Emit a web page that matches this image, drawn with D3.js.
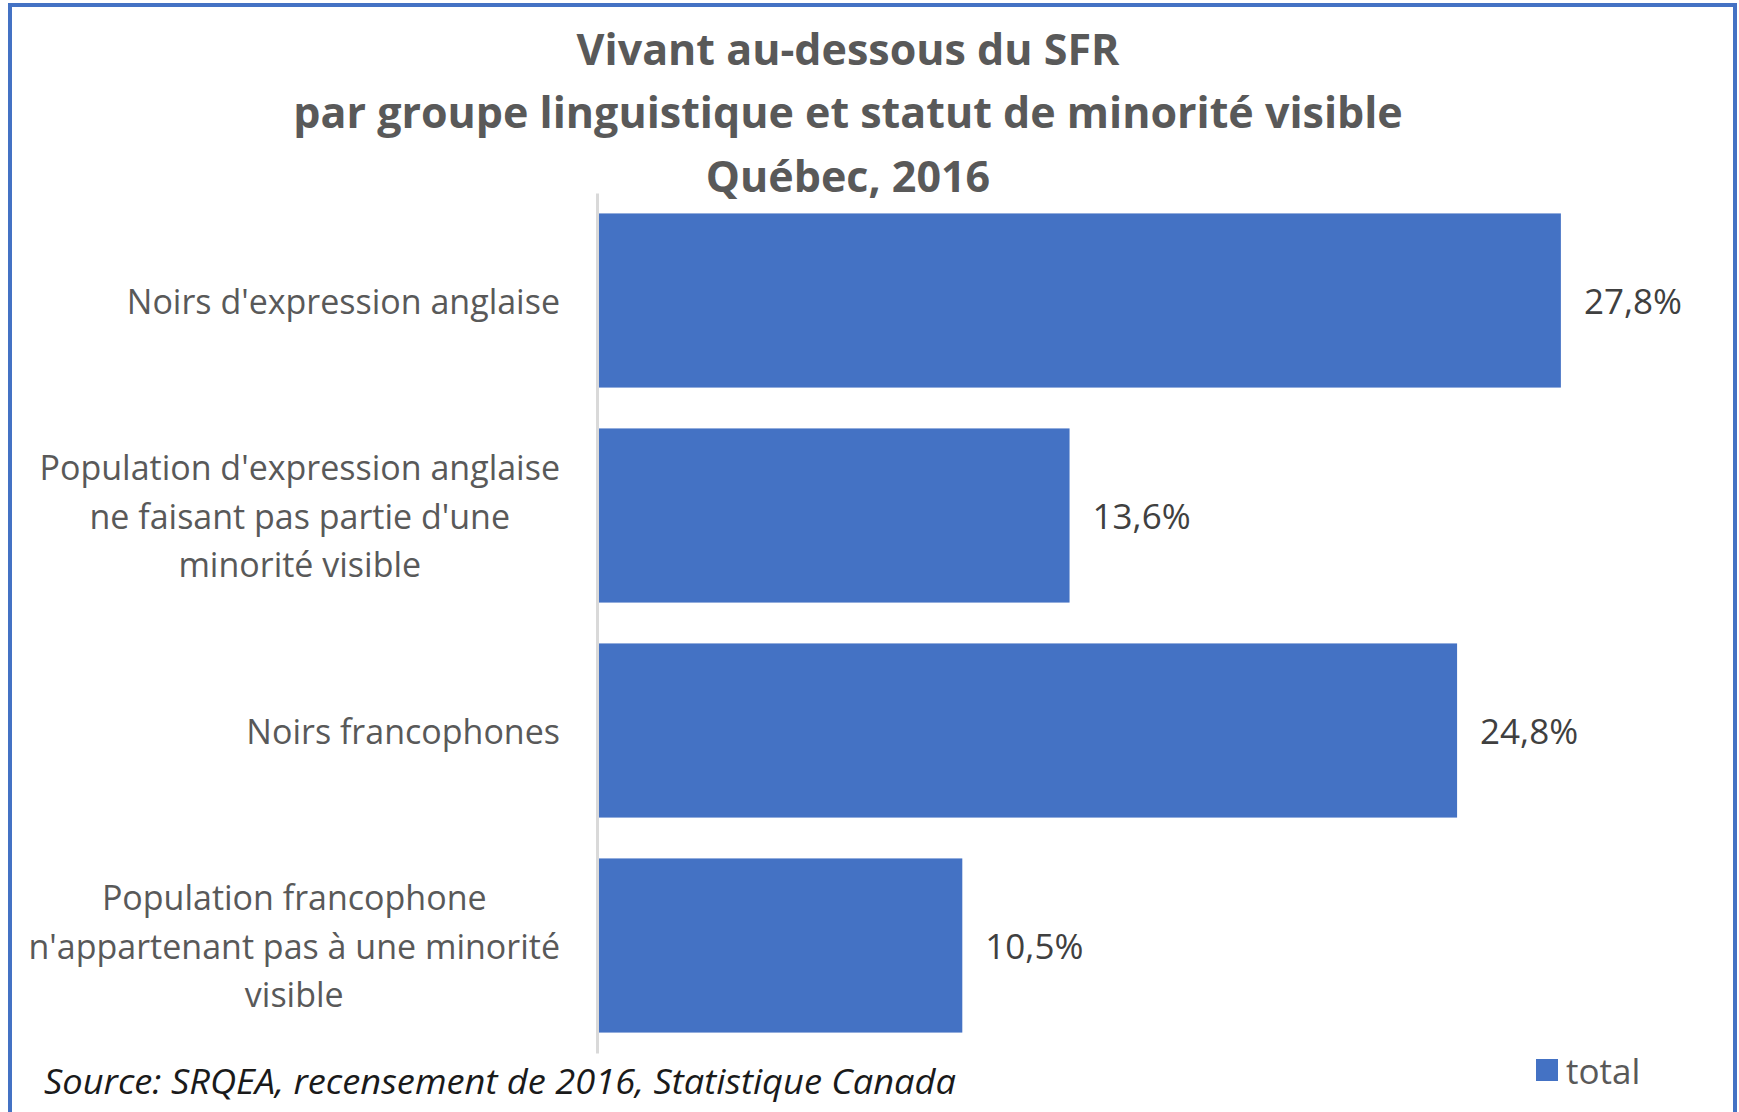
<!DOCTYPE html>
<html>
<head>
<meta charset="utf-8">
<script src="https://cdn.jsdelivr.net/npm/d3@7"></script>
<style>
  html, body { margin: 0; padding: 0; background: #fff; }
  svg { display: block; }
</style>
</head>
<body>
<svg id="chart" width="1739" height="1112"></svg>
<script>
// ---- data ----
const categories = [
  "Noirs d'expression anglaise",
  "Population d'expression anglaise ne faisant pas partie d'une minorité visible",
  "Noirs francophones",
  "Population francophone n'appartenant pas à une minorité visible"
];
const categoryLines = [
  ["Noirs d'expression anglaise"],
  ["Population d'expression anglaise", "ne faisant pas partie d'une", "minorité visible"],
  ["Noirs francophones"],
  ["Population francophone", "n'appartenant pas à une minorité", "visible"]
];
const values = [27.8, 13.6, 24.8, 10.5];
const titleLines = [
  "Vivant au-dessous du SFR",
  "par groupe linguistique et statut de minorité visible",
  "Québec, 2016"
];
const seriesName = "total";
const sourceText = "Source: SRQEA, recensement de 2016, Statistique Canada";

// ---- drawing ----
const svg = d3.select("#chart");
const W = 1739, H = 1112;
const font = "'Open Sans', 'Noto Sans', sans-serif";
const grey = "#595959";
const blue = "#4472C4";

svg.append("rect").attr("x", 0).attr("y", 0).attr("width", W).attr("height", H).attr("fill", "#fff");
// outer border
svg.append("rect")
  .attr("x", 10).attr("y", 5).attr("width", 1725).attr("height", 1130)
  .attr("fill", "none").attr("stroke", blue).attr("stroke-width", 4);

// title
svg.append("g").selectAll("text").data(titleLines).join("text")
  .attr("x", 848)
  .attr("y", (d, i) => 48 + i * 63.5)
  .attr("text-anchor", "middle")
  .attr("dominant-baseline", "central")
  .attr("font-family", font)
  .attr("font-weight", "bold")
  .attr("font-size", 43)
  .attr("fill", grey)
  .text(d => d);

const x = d3.scaleLinear().domain([0, 30]).range([599, 1637]);
const y = d3.scaleBand().domain(categories).range([193, 1053]).paddingInner(0.19).paddingOuter(0.095);

// bars
svg.append("g").selectAll("rect").data(values).join("rect")
  .attr("x", x(0))
  .attr("y", (d, i) => y(categories[i]))
  .attr("width", d => x(d) - x(0))
  .attr("height", y.bandwidth())
  .attr("fill", blue);

// axis line (category axis)
const yAxis = d3.axisLeft(y).tickSize(0).tickFormat("");
const gAxis = svg.append("g").attr("transform", `translate(${x(0) - 2},0)`).call(yAxis);
gAxis.select(".domain").attr("stroke", "#D9D9D9").attr("stroke-width", 3);

// category labels
const labelRight = 560;
const lineH = 48.5;
const gLab = svg.append("g");
categories.forEach((c, i) => {
  const lines = categoryLines[i];
  const cy = y(c) + y.bandwidth() / 2;
  const g = gLab.append("g");
  const texts = g.selectAll("text").data(lines).join("text")
    .attr("y", (d, j) => cy + (j - (lines.length - 1) / 2) * lineH)
    .attr("dominant-baseline", "central")
    .attr("text-anchor", "middle")
    .attr("font-family", font)
    .attr("font-size", 34)
    .attr("fill", grey)
    .text(d => d);
  let maxW = 0;
  texts.each(function () { maxW = Math.max(maxW, this.getComputedTextLength()); });
  texts.attr("x", labelRight - maxW / 2);
});

// value labels
const fmt = v => v.toFixed(1).replace(".", ",") + "%";
svg.append("g").selectAll("text").data(values).join("text")
  .attr("x", d => x(d) + 23)
  .attr("y", (d, i) => y(categories[i]) + y.bandwidth() / 2)
  .attr("dominant-baseline", "central")
  .attr("font-family", font)
  .attr("font-size", 35)
  .attr("fill", "#404040")
  .text(d => fmt(d));

// legend
svg.append("rect").attr("x", 1536).attr("y", 1059).attr("width", 22).attr("height", 22).attr("fill", blue);
svg.append("text")
  .attr("x", 1566).attr("y", 1070)
  .attr("dominant-baseline", "central")
  .attr("font-family", font)
  .attr("font-size", 35)
  .attr("fill", grey)
  .text(seriesName);

// source
svg.append("text")
  .attr("x", 44).attr("y", 1094)
  .attr("font-family", font)
  .attr("font-style", "italic")
  .attr("font-size", 34)
  .attr("fill", "#1a1a1a")
  .attr("textLength", 912)
  .attr("lengthAdjust", "spacingAndGlyphs")
  .text(sourceText);
</script>
</body>
</html>
